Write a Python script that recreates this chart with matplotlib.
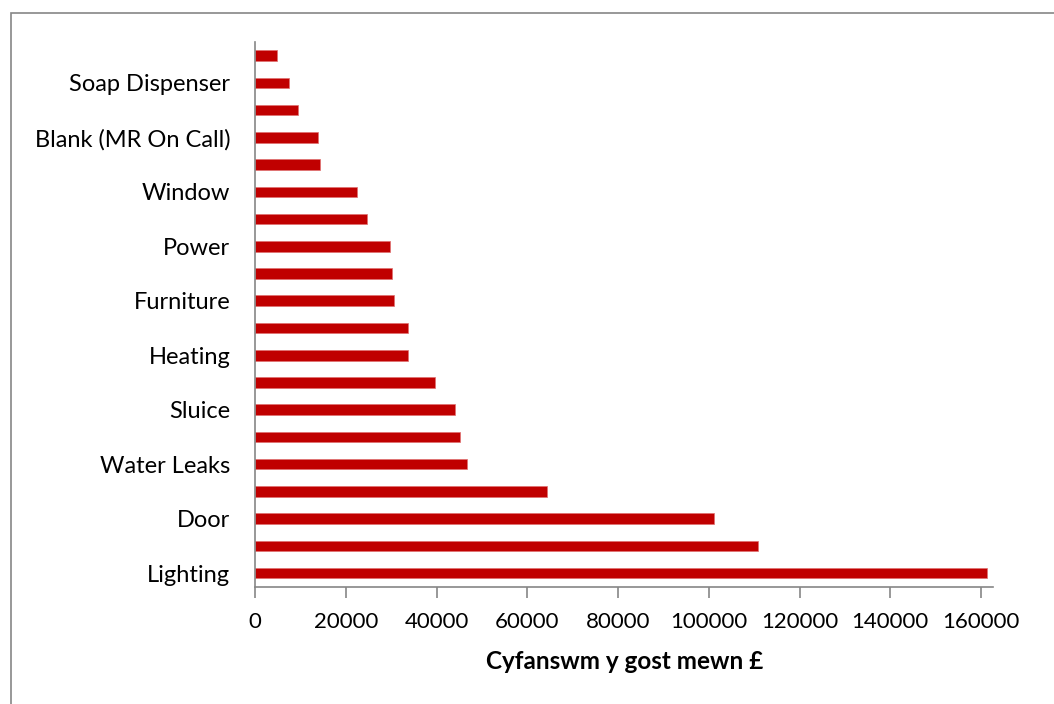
import matplotlib.pyplot as plt
from matplotlib.patches import Rectangle

# bottom to top, only every other bar carries a visible label
labels = ["Lighting", "", "Door", "", "Water Leaks", "", "Sluice", "",
          "Heating", "", "Furniture", "", "Power", "", "Window", "",
          "Blank (MR On Call)", "", "Soap Dispenser", ""]
costs = [161300, 110900, 101100, 64300, 46600, 45100, 44000, 39600,
         33600, 33600, 30500, 30200, 29800, 24600, 22400, 14300,
         13800, 9400, 7500, 4850]
xticks = [0, 20000, 40000, 60000, 80000, 100000, 120000, 140000, 160000]

plt.rcParams["font.family"] = ["Lato", "DejaVu Sans"]

fig = plt.figure(figsize=(10.54, 7.04), dpi=100)
ax = fig.add_axes([0.2422, 0.1666, 0.7002, 0.7737])

pos = list(range(len(costs)))
ax.barh(pos, costs, height=0.39, color="#C00000", edgecolor="#E07070", linewidth=0.5)

ax.set_ylim(-0.5, len(costs) - 0.5)
ax.set_xlim(0, 162700)
ax.set_yticks(pos)
ax.set_yticklabels(labels, fontsize=17)
ax.set_xticks(xticks)
ax.set_xticklabels([str(t) for t in xticks], fontsize=16)
ax.tick_params(axis="y", length=0, pad=18)
ax.tick_params(axis="x", length=8, width=1.2, color="#868686", pad=10)

for side in ["top", "right"]:
    ax.spines[side].set_visible(False)
for side in ["left", "bottom"]:
    ax.spines[side].set_color("#868686")
    ax.spines[side].set_linewidth(1.2)

ax.set_xlabel("Cyfanswm y gost mewn £", fontsize=17.5, fontweight="bold", labelpad=13)

# chart area border, cut off at the right and bottom edges
fig.patches.append(Rectangle((11 / 1054, -0.05), 1.1, 1 - 13 / 704 + 0.05,
                             transform=fig.transFigure, fill=False,
                             edgecolor="#868686", linewidth=1.2))

fig.savefig("out.png", dpi=100)
